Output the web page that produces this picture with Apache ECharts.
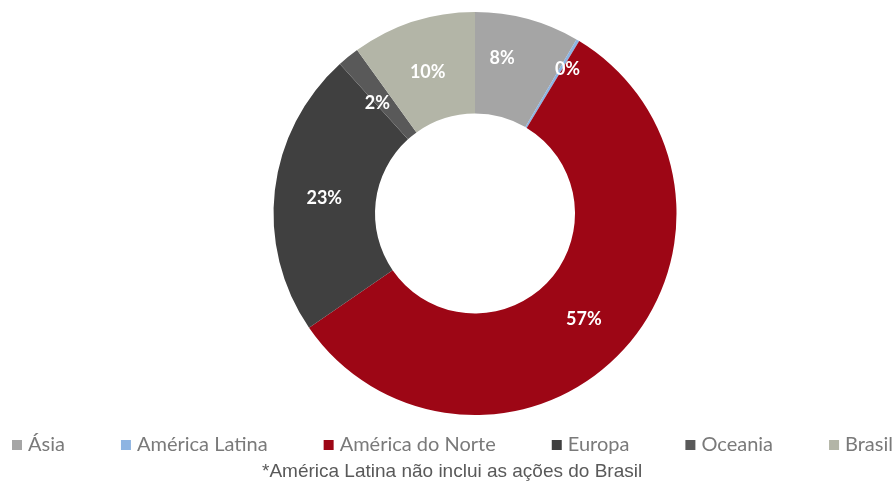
<!DOCTYPE html>
<html>
<head>
<meta charset="utf-8">
<script src="https://cdn.jsdelivr.net/npm/echarts@6/dist/echarts.min.js"></script>
<style>html,body{margin:0;padding:0;background:#fff}#c{width:896px;height:481px}</style>
</head>
<body>
<div id="c"></div>
<script>
const categories = ['Ásia', 'América Latina', 'América do Norte', 'Europa', 'Oceania', 'Brasil'];
const values = [8.4, 0.25, 56.75, 22.9, 1.75, 9.95];
const colors = ['#a5a5a5', '#8db4e2', '#9d0615', '#404040', '#595959', '#b3b5a7'];
const footnote = '*América Latina não inclui as ações do Brasil';

// label nudges (pixels, [dx, dy]) to mimic the original placement
const labelNudge = [[-13, -7], [14, -12], [-3, 0], [2, 3], [-1, 9], [0, 5]];

const chart = echarts.init(document.getElementById('c'));
chart.setOption({
  animation: false,
  color: colors,
  legend: {
    data: categories,
    left: 12,
    top: 435,
    padding: 0,
    itemWidth: 10,
    itemHeight: 10,
    itemGap: 56,
    icon: 'rect',
    textStyle: { fontFamily: 'Lato', fontSize: 20, color: '#7a7a7a', padding: [0, 0, 0, 1] }
  },
  graphic: [{
    type: 'text',
    left: 262,
    top: 462,
    style: { text: footnote, font: '19px "Liberation Sans", Arial', fill: '#595959' }
  }],
  series: [{
    type: 'pie',
    center: [475, 213.5],
    radius: [100, 201.5],
    startAngle: 90,
    clockwise: true,
    avoidLabelOverlap: false,
    label: {
      show: true,
      position: 'inside',
      color: '#fff',
      fontFamily: 'Lato',
      fontWeight: 'bold',
      fontSize: 18,
      formatter: p => Math.round(p.value) + '%'
    },
    labelLayout: p => ({ dx: labelNudge[p.dataIndex][0], dy: labelNudge[p.dataIndex][1] }),
    labelLine: { show: false },
    itemStyle: { borderWidth: 0 },
    emphasis: { disabled: true },
    data: categories.map((c, i) => ({ name: c, value: values[i] }))
  }]
});
</script>
</body>
</html>
